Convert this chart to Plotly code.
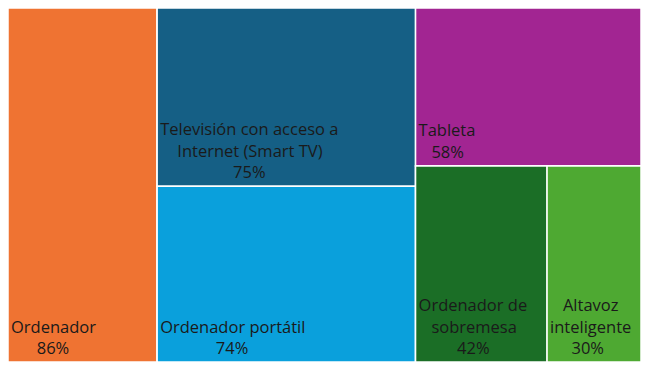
import plotly.graph_objects as go

# Data
categories = ["Ordenador", "Televisión con acceso a Internet (Smart TV)", "Ordenador portátil",
              "Tableta", "Ordenador de sobremesa", "Altavoz inteligente"]
values = [86, 75, 74, 58, 42, 30]
pct_text = ["86%", "75%", "74%", "58%", "42%", "30%"]

# Styling
colors = ["#EF7332", "#155F85", "#0AA0DC", "#A22592", "#1B6E26", "#4EA932"]
# label wrapping as drawn in the reference
label_lines = [["Ordenador"],
               ["Televisión con acceso a", "Internet (Smart TV)"],
               ["Ordenador portátil"],
               ["Tableta"],
               ["Ordenador de", "sobremesa"],
               ["Altavoz", "inteligente"]]
# leading non-breaking spaces so lines appear centred under one another
line_pad = [[0, 6], [0, 4, 17], [0, 13], [0, 3], [0, 3, 9], [3, 0, 5]]

def block(i):
    lines = label_lines[i] + [pct_text[i]]
    return "<br>".join("\u00a0" * p + s for p, s in zip(line_pad[i], lines))

# Layout structure (groups for the column/row arrangement)
leaf_ids = ["ord", "tv", "port", "tab", "sob", "alt"]
leaf_parent = ["", "g1", "g1", "g2", "g3", "g3"]

ids = ["ord", "g1", "tv", "port", "g2", "tab", "g3", "sob", "alt"]
id_index = {k: i for i, k in enumerate(leaf_ids)}
group_parent = {"g1": "", "g2": "", "g3": "g2"}

p_list, v_list, t_list, c_list, l_list, h_list = [], [], [], [], [], []
for k in ids:
    if k in id_index:
        i = id_index[k]
        p_list.append(leaf_parent[i])
        v_list.append(values[i])
        t_list.append(block(i))
        c_list.append(colors[i])
        l_list.append(categories[i])
        h_list.append(pct_text[i])
    else:
        p_list.append(group_parent[k])
        v_list.append(0)
        t_list.append("")
        c_list.append("white")
        l_list.append("")
        h_list.append("")

fig = go.Figure(go.Treemap(
    ids=ids,
    labels=l_list,
    parents=p_list,
    values=v_list,
    text=t_list,
    customdata=h_list,
    texttemplate="%{text}",
    hovertemplate="%{label}: %{customdata}<extra></extra>",
    textposition="bottom left",
    marker=dict(colors=c_list, line=dict(color="white", width=1.5),
                pad=dict(t=0, l=0, r=0, b=0)),
    textfont=dict(family="Open Sans", size=16.5, color="#1a1a1a"),
    tiling=dict(packing="slice-dice", pad=0),
    pathbar=dict(visible=False),
    sort=False,
    root=dict(color="white"),
))
fig.update_layout(
    width=650, height=371,
    margin=dict(l=0, r=17, t=0, b=17),
    paper_bgcolor="white",
    uniformtext=dict(minsize=16.5, mode="show"),
)
fig.write_html("out.html")
